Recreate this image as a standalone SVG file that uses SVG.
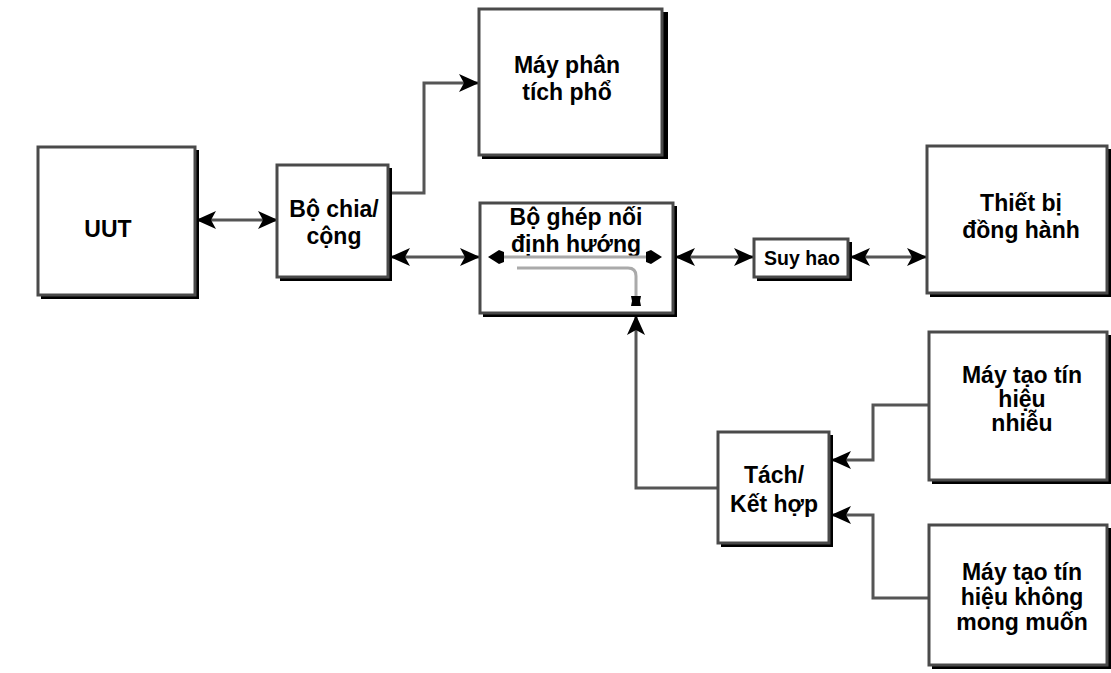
<svg xmlns="http://www.w3.org/2000/svg" width="1111" height="673" viewBox="0 0 1111 673">
<defs>
<style>
.box{fill:#fff;stroke:#4a4a4a;stroke-width:3}
.sh{fill:#000}
.t{font-family:"Liberation Sans",Arial,sans-serif;font-weight:bold;font-size:23px;fill:#000;text-anchor:middle}
.ts{font-size:19.5px}
.c{fill:none;stroke:#555;stroke-width:3}
.in{fill:none;stroke:#aaa;stroke-width:3}
</style>
<marker id="ah" viewBox="0 0 20 20" refX="19" refY="10" markerWidth="20" markerHeight="20" markerUnits="userSpaceOnUse" orient="auto-start-reverse">
<path d="M0,1 L20,10 L0,19 L5,10 Z" fill="#000"/>
</marker>
</defs>
<rect width="1111" height="673" fill="#fff"/>

<g id="connectors">
<line class="c" x1="197" y1="220" x2="277" y2="220" marker-start="url(#ah)" marker-end="url(#ah)"/>
<polyline class="c" points="391,193 424,193 424,83 478,83" marker-end="url(#ah)"/>
<line class="c" x1="391" y1="257" x2="479" y2="257" marker-start="url(#ah)" marker-end="url(#ah)"/>
<line class="c" x1="676" y1="257" x2="753" y2="257" marker-start="url(#ah)" marker-end="url(#ah)"/>
<line class="c" x1="851" y1="257" x2="926" y2="257" marker-start="url(#ah)" marker-end="url(#ah)"/>
<polyline class="c" points="718,488 636,488 636,316" marker-end="url(#ah)"/>
<polyline class="c" points="929,405 873,405 873,460 832,460" marker-end="url(#ah)"/>
<polyline class="c" points="929,598 873,598 873,515 832,515" marker-end="url(#ah)"/>
</g>

<g id="uut">
<rect class="sh" x="41" y="150" width="158" height="149"/>
<rect class="box" x="38" y="147" width="157" height="148"/>
<text class="t" x="108" y="237">UUT</text>
</g>

<g id="bochia">
<rect class="sh" x="280" y="168" width="112" height="113"/>
<rect class="box" x="277" y="165" width="111" height="112"/>
<text class="t" x="334" y="217">Bộ chia/</text>
<text class="t" x="334" y="244">cộng</text>
</g>

<g id="mayphantich">
<rect class="sh" x="482" y="12" width="186" height="147"/>
<rect class="box" x="479" y="9" width="183" height="146"/>
<text class="t" x="567" y="73">Máy phân</text>
<text class="t" x="567" y="100">tích phổ</text>
</g>

<g id="boghep">
<rect class="sh" x="483" y="206" width="194" height="111"/>
<rect class="box" x="480" y="203" width="193" height="110"/>
<text class="t" x="576" y="225">Bộ ghép nối</text>
<text class="t" x="576" y="252">định hướng</text>
<line class="in" x1="498" y1="257" x2="652" y2="257"/>
<path d="M488,257 L499,250 L504,252 L504,262 L499,264 Z" fill="#000"/>
<path d="M662,257 L651,250 L646,252 L646,262 L651,264 Z" fill="#000"/>
<path class="in" d="M517,268 L628,268 Q636,268 636,276 L636,297"/>
<path d="M631,296 L641,296 L640,301 L641,306 L631,306 L632,301 Z" fill="#000"/>
</g>

<g id="suyhao">
<rect class="sh" x="757" y="242" width="95" height="39"/>
<rect class="box" x="754" y="239" width="94" height="38"/>
<text class="t ts" x="802" y="265">Suy hao</text>
</g>

<g id="thietbi">
<rect class="sh" x="930" y="149" width="181" height="148"/>
<rect class="box" x="927" y="146" width="180" height="147"/>
<text class="t" x="1021" y="211">Thiết bị</text>
<text class="t" x="1021" y="238">đồng hành</text>
</g>

<g id="maytaonhieu">
<rect class="sh" x="932" y="335" width="179" height="149"/>
<rect class="box" x="929" y="332" width="178" height="148"/>
<text class="t" x="1022" y="383">Máy tạo tín</text>
<text class="t" x="1022" y="407">hiệu</text>
<text class="t" x="1022" y="431">nhiễu</text>
</g>

<g id="maytaokhong">
<rect class="sh" x="932" y="528" width="179" height="141"/>
<rect class="box" x="929" y="525" width="178" height="140"/>
<text class="t" x="1022" y="580">Máy tạo tín</text>
<text class="t" x="1022" y="605">hiệu không</text>
<text class="t" x="1022" y="630">mong muốn</text>
</g>

<g id="tach">
<rect class="sh" x="721" y="435" width="112" height="112"/>
<rect class="box" x="718" y="432" width="111" height="111"/>
<text class="t" x="774" y="483">Tách/</text>
<text class="t" x="774" y="512">Kết hợp</text>
</g>
</svg>
